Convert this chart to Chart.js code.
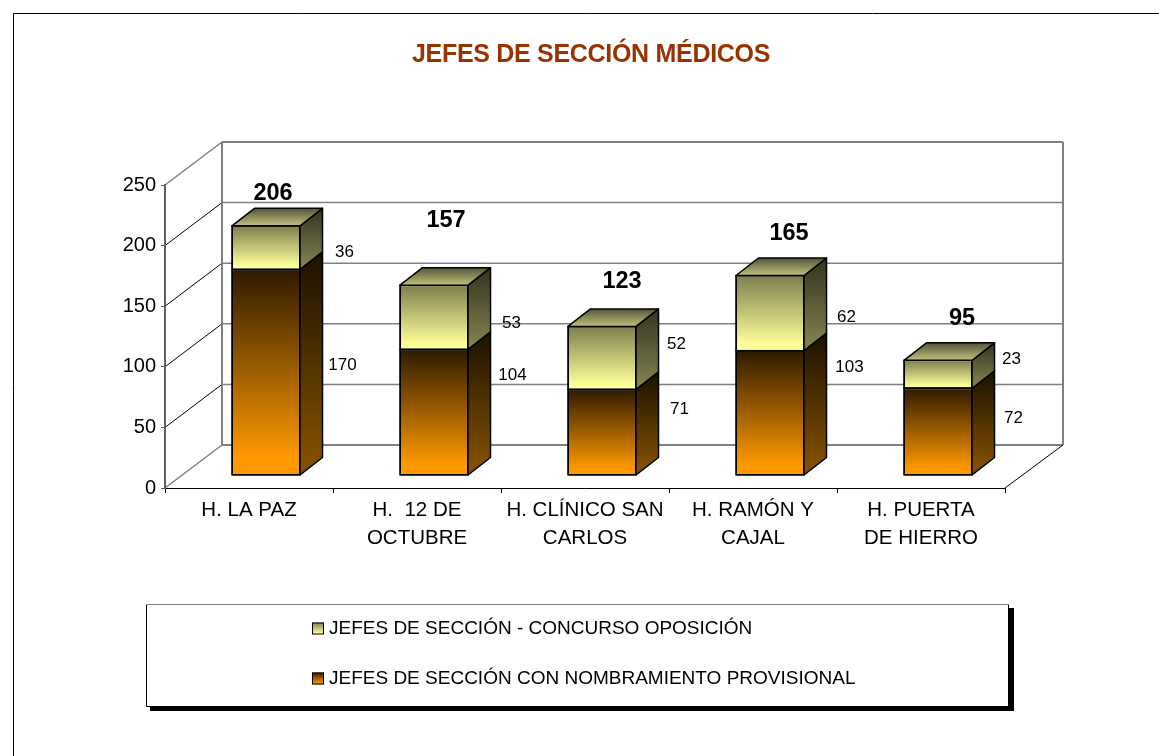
<!DOCTYPE html>
<html><head><meta charset="utf-8">
<style>html,body{margin:0;padding:0;background:#fff}#w{width:1159px;height:756px;position:relative}</style>
<script src="https://cdn.jsdelivr.net/npm/chart.js@4"></script>
</head><body><div id="w"><canvas id="c" width="1159" height="756"></canvas></div>
<script>
const categories = [['H. LA PAZ'], ['H.  12 DE','OCTUBRE'], ['H. CLÍNICO SAN','CARLOS'], ['H. RAMÓN Y','CAJAL'], ['H. PUERTA','DE HIERRO']];
const provisional = [170, 104, 71, 103, 72];
const concurso = [36, 53, 52, 62, 23];
const totals = [206, 157, 123, 165, 95];
const yTicks = [0, 50, 100, 150, 200, 250];
const seriesNames = ['JEFES DE SECCIÓN CON NOMBRAMIENTO PROVISIONAL', 'JEFES DE SECCIÓN - CONCURSO OPOSICIÓN'];
const titleText = 'JEFES DE SECCIÓN MÉDICOS';

// label nudges relative to the geometric anchor (as hand-placed in the original)
const lowerNudge = [[20,-6],[22,-36],[21,-22],[23,-45],[19,-13]];
const upperNudge = [[22,5],[21,6],[18,-13],[20,5],[17,-14]];
const totalNudge = [[7,-31.5],[12,-64.5],[20,-44],[19,-41.5],[24,-41.5]];

const WALL = {dx:57, dy:43};
const BAR = {dx:17, dy:12.5, ddx:22.5, ddy:17.5};
const FONT = '"Liberation Sans", Arial, sans-serif';
const PAL = [
  {front:['#ff9900','#2e1a00'], side:['#805000','#1c1000']},
  {front:['#ffff99','#7e7e50'], side:['#80804d','#33331f'], top:['#b8b874','#55553a']}
];

function grad(ctx, y0, y1, c0, c1){
  const g = ctx.createLinearGradient(0,y0,0,y1);
  g.addColorStop(0,c0); g.addColorStop(0.08,c0); g.addColorStop(1,c1); return g;
}
function segFill(ds){
  return (c)=>{
    const ch=c.chart, y=ch.scales.y;
    if(!ch.chartArea||!y||c.dataIndex===undefined) return PAL[ds].front[0];
    const base = ds===0?0:provisional[c.dataIndex];
    const val = ds===0?provisional[c.dataIndex]:base+concurso[c.dataIndex];
    return grad(ch.ctx,y.getPixelForValue(base),y.getPixelForValue(val),PAL[ds].front[0],PAL[ds].front[1]);
  };
}
const scene = {
  id:'scene',
  afterLayout(chart){
    const l=chart.legend;
    l.left=281; l.right=1000; l.top=588.5; l.bottom=720; l.width=719; l.height=131.5;
    const t=chart.titleBlock;
    if(!t._wrapped){
      const d=t.draw;
      t.draw=function(){const x=this.ctx;x.save();x.translate(88.5,0);x.letterSpacing='-0.3px';d.apply(this,arguments);x.restore();};
      t._wrapped=true;
    }
  },
  beforeDraw(chart){
    const c=chart.ctx, a=chart.chartArea, ys=chart.scales.y;
    c.save();
    c.fillStyle='#fff'; c.fillRect(0,0,chart.width,chart.height);
    // page frame
    c.strokeStyle='#000'; c.lineWidth=1;
    c.beginPath(); c.moveTo(13.5,756); c.lineTo(13.5,13.5); c.lineTo(1159,13.5); c.stroke();
    // legend panel
    c.fillStyle='#000'; c.fillRect(150,608,864,103);
    c.fillStyle='#fff'; c.fillRect(146,604,863,102);
    c.strokeStyle='#000'; c.strokeRect(146.5,604.5,862,102);
    c.strokeStyle='#808080'; c.beginPath(); c.moveTo(146,604.5); c.lineTo(1009,604.5); c.stroke();
    // walls
    const bl=a.left+WALL.dx, br=a.right+WALL.dx+1;
    yTicks.forEach((v,i)=>{
      const y=ys.getPixelForValue(v), by=y-WALL.dy, edge=(i===0||i===yTicks.length-1);
      c.strokeStyle='#808080'; c.lineWidth=edge?2:1.5;
      c.beginPath(); c.moveTo(bl,by); c.lineTo(br,by); c.stroke();
      c.strokeStyle=edge?'#808080':'#000'; c.lineWidth=edge?1.5:1;
      c.beginPath(); c.moveTo(a.left,y); c.lineTo(bl,by); c.stroke();
    });
    const t=ys.getPixelForValue(250)-WALL.dy, b=ys.getPixelForValue(0)-WALL.dy;
    c.strokeStyle='#808080'; c.lineWidth=2;
    c.beginPath(); c.moveTo(bl,t); c.lineTo(bl,b); c.moveTo(br,t); c.lineTo(br,b); c.stroke();
    c.strokeStyle='#000'; c.lineWidth=1;
    c.beginPath(); c.moveTo(a.right,a.bottom); c.lineTo(br,b); c.stroke();
    c.restore();
  },
  beforeDatasetsDraw(chart){ chart.ctx.save(); chart.ctx.translate(BAR.dx,-BAR.dy); },
  afterDatasetsDraw(chart){
    const c=chart.ctx;
    c.strokeStyle='#000'; c.lineWidth=1.5; c.lineJoin='round';
    [0,1].forEach(ds=>{
      chart.getDatasetMeta(ds).data.forEach(el=>{
        const r=el.x+el.width/2, l=el.x-el.width/2, top=Math.min(el.y,el.base), bot=Math.max(el.y,el.base);
        c.strokeRect(l,top,el.width,bot-top);
        c.fillStyle=grad(c,bot,top-BAR.ddy,PAL[ds].side[0],PAL[ds].side[1]);
        c.beginPath(); c.moveTo(r,bot); c.lineTo(r+BAR.ddx,bot-BAR.ddy); c.lineTo(r+BAR.ddx,top-BAR.ddy); c.lineTo(r,top); c.closePath(); c.fill(); c.stroke();
        if(ds===1){
          c.fillStyle=grad(c,top,top-BAR.ddy,PAL[1].top[0],PAL[1].top[1]);
          c.beginPath(); c.moveTo(l,top); c.lineTo(r,top); c.lineTo(r+BAR.ddx,top-BAR.ddy); c.lineTo(l+BAR.ddx,top-BAR.ddy); c.closePath(); c.fill(); c.stroke();
        }
      });
    });
    c.restore();
    // value labels
    c.save();
    c.fillStyle='#000'; c.textAlign='center'; c.textBaseline='middle';
    c.font='17px '+FONT;
    const depthRight=(el)=>el.x+el.width/2+BAR.dx+BAR.ddx;
    chart.getDatasetMeta(0).data.forEach((el,i)=>{
      c.fillText(String(provisional[i]),depthRight(el)+lowerNudge[i][0],(el.y+el.base)/2-13+lowerNudge[i][1]);
    });
    chart.getDatasetMeta(1).data.forEach((el,i)=>{
      c.fillText(String(concurso[i]),depthRight(el)+upperNudge[i][0],(el.y+el.base)/2-13+upperNudge[i][1]);
    });
    c.font='bold 23.5px '+FONT;
    chart.getDatasetMeta(1).data.forEach((el,i)=>{
      c.fillText(String(totals[i]),el.x+BAR.dx+totalNudge[i][0],el.y-13+totalNudge[i][1]);
    });
    c.restore();
  },
  afterDraw(chart){
    const c=chart.ctx, boxes=chart.legend.legendHitBoxes;
    boxes.forEach((b,i)=>{
      const pal=PAL[chart.legend.legendItems[i].datasetIndex];
      const y=b.top+3;
      c.save();
      c.fillStyle=grad(c,y+12,y,pal.front[0],pal.front[1]);
      c.fillRect(b.left,y,12,12);
      c.strokeStyle='#000'; c.lineWidth=1; c.strokeRect(b.left+.5,y+.5,11,11);
      c.restore();
    });
  }
};
new Chart(document.getElementById('c'),{
  type:'bar',
  data:{labels:categories,datasets:[
    {label:seriesNames[0],data:provisional,backgroundColor:segFill(0),borderColor:'#000',borderWidth:1,borderSkipped:false,barPercentage:0.405,categoryPercentage:1,clip:false},
    {label:seriesNames[1],data:concurso,backgroundColor:segFill(1),borderColor:'#000',borderWidth:1,borderSkipped:false,barPercentage:0.405,categoryPercentage:1,clip:false}
  ]},
  plugins:[scene],
  options:{
    responsive:false,animation:false,
    layout:{padding:{left:0,right:154,top:0,bottom:0}},
    scales:{
      x:{stacked:true,
        grid:{display:true,offset:true,drawOnChartArea:false,drawTicks:true,tickLength:5,color:'#000'},
        border:{display:true,color:'#000',width:1},
        ticks:{autoSkip:false,maxRotation:0,minRotation:0,padding:3,color:'#000',font:{family:FONT,size:20.5,lineHeight:1.37}},
        afterFit(s){s.height=268;}
      },
      y:{stacked:true,min:0,max:250,
        grid:{display:true,drawOnChartArea:false,drawTicks:true,tickLength:4,color:'#606060'},
        border:{display:true,color:'#606060',width:2},
        ticks:{stepSize:50,padding:5,color:'#000',font:{family:FONT,size:20}},
        afterFit(s){s.width=165;}
      }
    },
    plugins:{
      tooltip:{enabled:false},
      title:{display:true,text:titleText,color:'#993300',font:{family:FONT,size:25,weight:'bold',lineHeight:1.2},padding:{top:40.5,bottom:114.5}},
      legend:{display:true,position:'chartArea',align:'start',reverse:false,
        labels:{
          boxWidth:7.5,boxHeight:12,padding:31,color:'#000',font:{family:FONT,size:19},
          generateLabels(chart){
            return [1,0].map(i=>({text:seriesNames[i],fillStyle:'rgba(0,0,0,0)',strokeStyle:'rgba(0,0,0,0)',lineWidth:0,datasetIndex:i,hidden:false}));
          }
        }
      }
    }
  }
});
</script></body></html>
